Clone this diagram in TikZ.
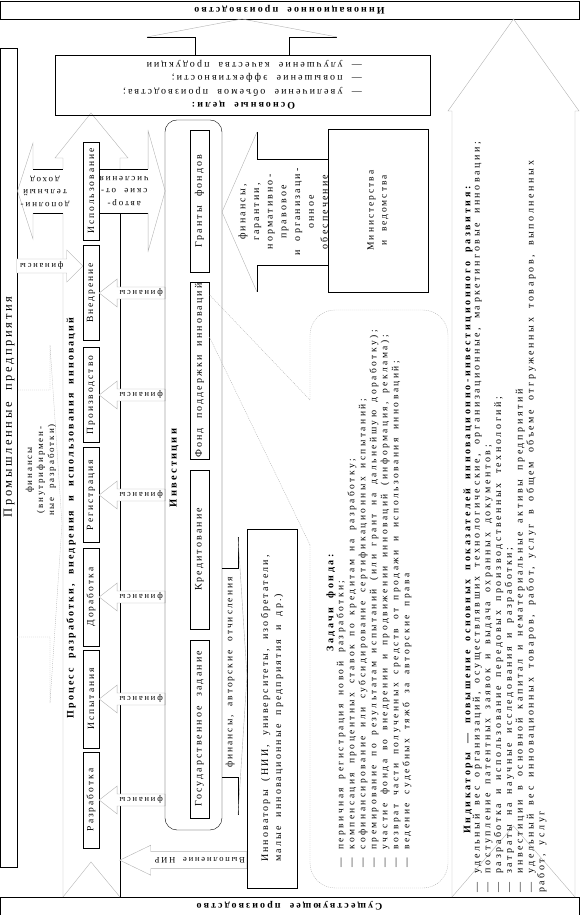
\documentclass[tikz,border=0pt]{standalone}
\usepackage{fontspec}
\setmainfont{Liberation Serif}[LetterSpace=21, WordSpace=2.0]
\newfontfamily\widefont{Liberation Serif}[LetterSpace=26, WordSpace=1.8]
\usetikzlibrary{calc}

\begin{document}
\begin{tikzpicture}[
    x=1pt, y=1pt, rotate=90, transform shape,
    bar/.style={draw, minimum width=579pt, minimum height=18pt, inner sep=0pt, font=\bfseries\fontsize{10}{12}\selectfont},
    stepbox/.style={draw, minimum height=16pt, inner sep=1pt, font=\fontsize{9.5}{11}\selectfont},
    investbox/.style={draw, minimum height=19pt, inner sep=1pt, font=\fontsize{10}{12}\selectfont},
    arrowtext/.style={inner sep=0pt, font=\fontsize{8.5}{10}\selectfont},
    finarrow/.style={draw=gray!60, fill=white},
    fathead/.style={draw=gray!60},
    fatshaft/.style={draw=black},
    dotline/.style={draw=gray!60, dash pattern=on 1pt off 1pt},
  ]
    \useasboundingbox (0,0) rectangle (915,579);

    % production bars
    \node[bar, rotate=90] (existing) at (9,289.5) {Существующее производство};
    \node[bar, rotate=90] (innovative) at (905,289.5) {Инновационное производство};

    % industry strip
    \node[draw, minimum width=819pt, minimum height=17pt] (industry) at (457.5,570) {};
    \node[font=\fontsize{12.5}{14}\selectfont] (industrytext) at (508,570) {Промышленные предприятия};

    % process arrow
    \draw[gray!60] (18,516) -- (702,516) (746,516) -- (757,516) -- (757,524) -- (802,488) -- (757,451) -- (757,459) -- (746,459);
    \draw (18,459) -- (702,459);
    \draw[gray!60] (18,459) -- (53,488) -- (18,516);

    \node[stepbox, minimum width=96pt] (dev) at (115,488) {Разработка};
    \node[stepbox, minimum width=98pt] (test) at (216,488) {Испытания};
    \node[stepbox, minimum width=98pt] (refine) at (318,488) {Доработка};
    \node[stepbox, minimum width=95pt] (reg) at (420,488) {Регистрация};
    \node[stepbox, minimum width=95pt] (prod) at (520,488) {Производство};
    \node[stepbox, minimum width=95pt] (impl) at (622,488) {Внедрение};
    \node[stepbox, minimum width=98pt] (use) at (724,488) {Использование};
    \node[font=\bfseries\fontsize{10}{12}\selectfont] (proctitle) at (397,508) {Процесс разработки, внедрения и использования инноваций};

    % finance to the steps
    \foreach \s in {dev,test,refine,reg,prod,impl} {
      \draw[finarrow] (\s.south) -- ++(14,-18) -- ++(-8,0) -- ++(0,-48) -- ++(-12,0) -- ++(0,48) -- ++(-8,0) -- cycle;
      \node[arrowtext, rotate=90] (fin-\s) at ($(\s.south)+(0,-42)$) {финансы};
    }
    \draw[finarrow] ($(impl.north)+(27,0)$) -- ++(-16,16) -- ++(9,0) -- ++(0,50) -- ++(14,0) -- ++(0,-50) -- ++(9,0) -- cycle;
    \node[arrowtext, rotate=90] (fin-industry) at ($(impl.north)+(27,41)$) {финансы};

    % investments
    \node[draw, rounded corners=12pt, minimum width=710pt, minimum height=57pt] (inv) at (440,385.5) {};
    \node[font=\bfseries\fontsize{10.5}{12}\selectfont] (invtitle) at (447,405) {Инвестиции};
    \node[investbox, minimum width=142pt] (grants) at (714,379.5) {Гранты фондов};
    \node[investbox, minimum width=177pt] (fund) at (544.5,379.5) {Фонд поддержки инноваций};
    \node[investbox, minimum width=159pt] (credit) at (365.5,379.5) {Кредитование};
    \node[investbox, minimum width=178pt] (state) at (186,379.5) {Государственное задание};

    % additional income
    \draw[fatshaft] (702,516) -- (702,546) (746,546) -- (746,516);
    \draw[fathead] (702,546) -- (676,546) -- (724,561.5) -- (772,546) -- (746,546);
    \node[arrowtext, rotate=90, align=center, font=\fontsize{9}{12.5}\selectfont] (income) at (724,534) {дополни-\\тельный\\доход};

    % author fees
    \draw[fatshaft] ($(use.south)+(-22,0)$) -- ++(0,-49) ($(use.south)+(22,0)$) -- ++(0,-49);
    \draw[fathead] ($(use.south)+(-22,-49)$) -- ++(-38,0) -- ($(use.south)+(0,-66)$) -- ($(use.south)+(60,-49)$) -- ++(-38,0);
    \node[arrowtext, rotate=90, align=center, font=\fontsize{9}{12.5}\selectfont] (fees) at ($(use.south)+(0,-25)$) {автор-\\ские от-\\числения};

    % goals
    \node[draw, rotate=90, minimum width=375pt, minimum height=60pt, inner sep=2pt, font=\fontsize{10}{13.5}\selectfont] (goals) at (830,336.5) {%
      \begin{tabular}{@{}l@{}}\multicolumn{1}{@{}c@{}}{\textbf{Основные цели:}}\\— увеличение объемов производства;\\— повышение эффективности;\\— улучшение качества продукции\end{tabular}};
    \draw[fatshaft] (860,290) -- (878,290) -- (878,242) (878,432) -- (878,384) -- (860,384);
    \draw[fathead] (878,242) -- (896,337) -- (878,432);

    % innovators
    \node[draw, minimum width=359pt, minimum height=50pt, align=left, font=\fontsize{10}{13}\selectfont] (innovators) at (206.5,307) {Инноваторы (НИИ, университеты, изобретатели,\\малые инновационные предприятия и др.)};
    \draw[finarrow] ($(innovators.north west)+(28,127)$) -- ++(15,-31) -- ++(-6.5,0) -- ++(0,-96) -- ++(-17,0) -- ++(0,96) -- ++(-6.5,0) -- cycle;
    \node[arrowtext, rotate=90] (research) at ($(innovators.north west)+(28,47)$) {Выполнение НИР};
    \draw[fatshaft] (347,357) -- (347,341) -- (378,341) (100,341) -- (138,341) -- (138,357);
    \draw[fathead] (378,341) -- (239,332) -- (100,341);
    \node[arrowtext, font=\fontsize{9.5}{11}\selectfont] (royalty) at (242.5,349) {финансы, авторские отчисления};

    % ministries
    \node[draw, minimum width=163pt, minimum height=100pt, align=center, font=\fontsize{9.5}{13}\selectfont] (ministry) at (704.5,201) {Министерства\\и ведомства};
    \draw[fatshaft] (650,251) -- (650,322) -- (623,322) (783,322) -- (756,322) -- (756,251);
    \draw[fathead] (623,322) -- (703,357) -- (783,322);
    \node[align=center, inner sep=0pt, font=\fontsize{10}{13.7}\selectfont] (support) at (703,296) {финансы,\\гарантии,\\нормативно-\\правовое\\и организаци-\\онное\\обеспечение};

    % in-house development
    \draw[dotline] (278,562) -- (278,529) -- (212,529) -- (391,517) -- (570,529) -- (525,529) -- (525,562);
    \node[align=center, inner sep=0pt, font=\fontsize{9}{11}\selectfont] (inhouse) at (445,538) {финансы\\(внутрифирмен-\\ные разработки)};

    % fund tasks
    \draw[dotline, rounded corners=25pt] (370,269) -- (27,269) -- (27,131) -- (605,131) -- (605,269) -- (515,269);
    \draw[dotline] (370,269) -- ($(fund.south)+(34,0)$) (515,269) -- ($(fund.south)+(76,0)$);
    \node[font=\widefont\bfseries\fontsize{10}{11}\selectfont] (taskstitle) at (312,248) {Задачи фонда:};
    \node[anchor=north west, align=left, inner sep=0pt, font=\widefont\fontsize{9.5}{11}\selectfont] (tasks) at (47,242.5) {%
      — первичная регистрация новой разработки;\\
      — компенсация процентных ставок по кредитам на разработку;\\
      — софинансирование или субсидирование сертификационных испытаний;\\
      — премирование по результатам испытаний (или грант на дальнейшую доработку);\\
      — участие фонда во внедрении и продвижении инноваций (информация, реклама);\\
      — возврат части полученных средств от продажи и использования инноваций;\\
      — ведение судебных тяжб за авторские права};

    % indicators arrow
    \draw[gray!60] (18,127) -- (804,127) -- (804,131) -- (896,65.5) -- (804,0) -- (804,4) -- (18,4);
    \draw[gray!60] (18,4) -- (89,65.5) -- (18,127);
    \node[font=\widefont\bfseries\fontsize{10}{11}\selectfont] (indtitle) at (405,111) {Индикаторы — повышение основных показателей инновационно-инвестиционного развития:};
    \node[anchor=north west, align=left, inner sep=0pt, font=\widefont\fontsize{10}{10.8}\selectfont] (indicators) at (22,106.5) {%
      — удельный вес организаций, осуществлявших технологические, организационные, маркетинговые инновации;\\
      — поступление патентных заявок и выдача охранных документов;\\
      — разработка и использование передовых производственных технологий;\\
      — затраты на научные исследования и разработки;\\
      — инвестиции в основной капитал и нематериальные активы предприятий\\
      — удельный вес инновационных товаров, работ, услуг в общем объеме отгруженных товаров, выполненных\\
      работ, услуг};
\end{tikzpicture}
\end{document}
